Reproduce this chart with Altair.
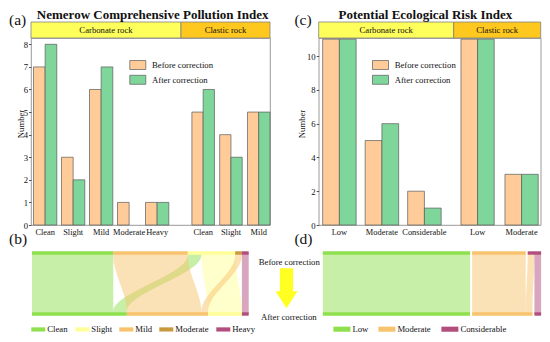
import json
import altair as alt
import pandas as pd

FONT = "Liberation Serif"
INK = "#111111"
FRAME = "#808080"
SMALL = 8.7

# ---------------- data ----------------
periods = ["Before correction", "After correction"]
period_colors = ["#FFCC99", "#7ED69B"]

a_title = "Nemerow Comprehensive Pollution Index"
a_carb_levels = ["Clean", "Slight", "Mild", "Moderate", "Heavy"]
a_carb_before = [7, 3, 6, 1, 1]
a_carb_after = [8, 2, 7, 0, 1]
a_clas_levels = ["Clean", "Slight", "Mild"]
a_clas_before = [5, 4, 5]
a_clas_after = [6, 3, 5]
a_yticks = [0, 1, 2, 3, 4, 5, 6, 7, 8]

c_title = "Potential Ecological Risk Index"
c_carb_levels = ["Low", "Moderate", "Considerable"]
c_carb_before = [11, 5, 2]
c_carb_after = [11, 6, 1]
c_clas_levels = ["Low", "Moderate"]
c_clas_before = [11, 3]
c_clas_after = [11, 3]
c_yticks = [0, 2, 4, 6, 8, 10]

rocks = ["Carbonate rock", "Clastic rock"]
rock_colors = ["#FFFF5C", "#FFC81E"]

b_classes = ["Clean", "Slight", "Mild", "Moderate", "Heavy"]
b_colors = ["#8FE04F", "#FFFF99", "#F8C36E", "#C89A3E", "#B24E7E"]
b_node_order = ["Clean", "Mild", "Slight", "Moderate", "Heavy"]
b_flow_src = ["Clean", "Slight", "Slight", "Mild", "Moderate", "Heavy"]
b_flow_tgt = ["Clean", "Clean", "Slight", "Mild", "Mild", "Heavy"]
b_flow_n = [12, 2, 5, 11, 1, 1]

d_classes = ["Low", "Moderate", "Considerable"]
d_colors = ["#8FE04F", "#F8C36E", "#B24E7E"]
d_node_order = ["Low", "Moderate", "Considerable"]
d_flow_src = ["Low", "Moderate", "Considerable", "Considerable"]
d_flow_tgt = ["Low", "Moderate", "Moderate", "Considerable"]
d_flow_n = [22, 8, 1, 1]

stage_labels = ["Before correction", "After correction"]


# ---------------- helpers ----------------
def label(text, x, y, size=SMALL, weight="normal", align="center",
          baseline="middle", opacity=1.0):
    return alt.Chart(alt.Data(values=[{"t": text}])).mark_text(
        font=FONT, fontSize=size, fontWeight=weight, align=align,
        baseline=baseline, color=INK, opacity=opacity
    ).encode(text="t:N", x=alt.value(x), y=alt.value(y))


def strip(x0, x1, color, text):
    rect = alt.Chart(alt.Data(values=[{"t": text}])).mark_rect(
        fill=color, stroke=FRAME, strokeWidth=0.8
    ).encode(x=alt.value(x0), x2=alt.value(x1), y=alt.value(-16), y2=alt.value(0))
    return [rect, label(text, (x0 + x1) / 2, -8)]


def bars_df(levels, before, after):
    rows = []
    for lv, b, a in zip(levels, before, after):
        rows.append({"level": lv, "period": periods[0], "value": b})
        rows.append({"level": lv, "period": periods[1], "value": a})
    return pd.DataFrame(rows)


def bar_layer(levels, before, after, rng, pin, pout, align, ymax, yaxis, legend):
    return alt.Chart(bars_df(levels, before, after)).transform_filter(
        "datum.value > 0"
    ).mark_bar(stroke="#5a5a5a", strokeWidth=0.7).encode(
        x=alt.X("level:N", sort=levels, title=None,
                scale=alt.Scale(domain=levels, range=rng, paddingInner=pin,
                                paddingOuter=pout, align=align),
                axis=alt.Axis(orient="bottom", labelAngle=0, ticks=False, domain=False,
                              labelPadding=2, labelFont=FONT, labelFontSize=8.4,
                              labelColor=INK, grid=False)),
        xOffset=alt.XOffset("period:N", sort=periods,
                            scale=alt.Scale(domain=periods, paddingInner=0, paddingOuter=0)),
        y=alt.Y("value:Q", scale=alt.Scale(domain=[0, ymax], nice=False), axis=yaxis),
        color=alt.Color("period:N", sort=periods,
                        scale=alt.Scale(domain=periods, range=period_colors), legend=legend),
    )


def bar_panel(title, title_x, tag, tag_x, tag2, width, split, height, ymax, yticks,
              ytitle_x, legend_x, carb, clas):
    yaxis = alt.Axis(values=yticks, title="Number", titleFont=FONT, titleFontSize=SMALL,
                     titleFontWeight="normal", titleColor=INK, titleX=ytitle_x, titleY=85.5,
                     titleAngle=270, titleBaseline="alphabetic", titleAlign="center",
                     labelFont=FONT, labelFontSize=SMALL, labelColor=INK, labelPadding=1,
                     tickSize=2.5, tickColor="#555555", domain=False, grid=False)
    legend = alt.Legend(title=None, orient="none", legendX=legend_x, legendY=21.5,
                        symbolType="M-1.6,-0.9H1.6V0.9H-1.6Z", symbolSize=100,
                        symbolStrokeColor="#5a5a5a", symbolStrokeWidth=0.7,
                        labelFont=FONT, labelFontSize=SMALL, labelColor=INK,
                        labelOffset=8.7, rowPadding=1.8, padding=0)
    layers = []
    layers += strip(0, split, rock_colors[0], rocks[0])
    layers += strip(split, width, rock_colors[1], rocks[1])
    layers.append(bar_layer(*carb[:3], [0, split], *carb[3:], ymax, yaxis, legend))
    layers.append(bar_layer(*clas[:3], [split, width], *clas[3:], ymax, yaxis, legend))
    layers.append(label(title, title_x, -19, size=13, weight="bold", baseline="alphabetic"))
    layers.append(label(tag, tag_x, -18.5, size=15.5, align="left"))
    layers.append(label(tag2, tag_x, 200.5, size=15.5, align="left"))
    return alt.layer(*layers).resolve_scale(
        x="independent", xOffset="independent"
    ).resolve_axis(x="independent").properties(
        width=width, height=height,
        view=alt.ViewBackground(stroke=FRAME, strokeWidth=0.8),
    )


def alluvial(src, tgt, n, classes, colors, node_order, gap, width, height, xrange_,
             legend, extra):
    order_js = json.dumps(node_order)
    flows = pd.DataFrame({"src": src, "tgt": tgt, "n": n})
    before = flows.groupby("src")["n"].sum()
    after = flows.groupby("tgt")["n"].sum()
    rows = []
    for c in node_order:
        rows.append({"stage": 0, "name": c, "num": int(before.get(c, 0))})
        rows.append({"stage": 1, "name": c, "num": int(after.get(c, 0))})
    nodes = pd.DataFrame(rows)
    total = int(flows["n"].sum())
    xs = alt.Scale(domain=[0, total + gap * (len(node_order) - 1)], range=xrange_,
                   nice=False, zero=False)
    ys = alt.Scale(domain=[0, 1], reverse=True, nice=False, zero=False)
    cs = alt.Scale(domain=classes, range=colors)

    flow_layer = alt.Chart(flows).transform_calculate(
        sr=f"indexof({order_js}, datum.src)",
        tr=f"indexof({order_js}, datum.tgt)",
    ).transform_window(
        acum="sum(n)", sort=[alt.SortField("sr"), alt.SortField("tr")], frame=[None, 0]
    ).transform_window(
        bcum="sum(n)", sort=[alt.SortField("tr"), alt.SortField("sr")], frame=[None, 0]
    ).transform_calculate(
        a0=f"datum.acum - datum.n + {gap} * datum.sr",
        a1=f"datum.acum + {gap} * datum.sr",
        b0=f"datum.bcum - datum.n + {gap} * datum.tr",
        b1=f"datum.bcum + {gap} * datum.tr",
        ts="[0, 0.04, 0.96, 1]",
        fid="datum.src + '>' + datum.tgt",
    ).transform_flatten(["ts"]).transform_calculate(
        xl="datum.ts < 0.5 ? datum.a0 : datum.b0",
        xr="datum.ts < 0.5 ? datum.a1 : datum.b1",
    ).mark_area(orient="horizontal", interpolate="monotone", fillOpacity=0.5).encode(
        x=alt.X("xl:Q", scale=xs, axis=None, stack=None),
        x2="xr:Q",
        y=alt.Y("ts:Q", scale=ys, axis=None),
        color=alt.Color("tgt:N", scale=cs, legend=legend),
        detail="fid:N",
    )

    node_layer = alt.Chart(nodes).transform_calculate(
        r=f"indexof({order_js}, datum.name)"
    ).transform_window(
        cum="sum(num)", groupby=["stage"], sort=[alt.SortField("r")], frame=[None, 0]
    ).transform_calculate(
        c0=f"datum.cum - datum.num + {gap} * datum.r",
        c1=f"datum.cum + {gap} * datum.r",
    ).transform_filter("datum.num > 0").mark_bar(size=3.4, orient="horizontal").encode(
        x=alt.X("c0:Q", scale=xs, axis=None, stack=None),
        x2="c1:Q",
        y=alt.Y("stage:Q", scale=ys, axis=None),
        color=alt.Color("name:N", scale=cs, legend=legend),
    )
    return alt.layer(flow_layer, node_layer, *extra).properties(width=width, height=height)


def flat_legend(x, y, sym, col_pad):
    return alt.Legend(title=None, orient="none", legendX=x, legendY=y, direction="horizontal",
                      symbolType="M-1,-0.3H1V0.3H-1Z", symbolSize=sym * sym,
                      symbolStrokeWidth=0, symbolOpacity=1,
                      labelFont=FONT, labelFontSize=SMALL,
                      labelColor=INK, labelOffset=2, columnPadding=col_pad, padding=0)


# ---------------- panels ----------------
panelA = bar_panel(
    a_title, 121.7, "(a)", -22, "(b)", 239, 150, 187, 8.28, a_yticks, -8, 101.3,
    (a_carb_levels, a_carb_before, a_carb_after, 0.168, 0.2625, 0.17),
    (a_clas_levels, a_clas_before, a_clas_after, 0.19, 0.196, 1.0),
)
panelC = bar_panel(
    c_title, 106.7, "(c)", -24.3, "(d)", 222, 135, 187, 11.07, c_yticks, -14.3, 56.3,
    (c_carb_levels, c_carb_before, c_carb_after, 0.212, 0.194, 0.24),
    (c_clas_levels, c_clas_before, c_clas_after, 0.245, 0.111, 0.745),
)

arrow_path = "M-0.33,-1L0.33,-1L0.33,0.15L0.55,0.15L0,1L-0.55,0.15L-0.33,0.15Z"
arrow = alt.Chart(alt.Data(values=[{"k": 1}])).mark_point(
    shape=arrow_path, filled=True, color="#FFFF22", opacity=1, strokeWidth=0, size=1600
).encode(x=alt.value(255.5), y=alt.value(40.3))

panelB = alluvial(
    b_flow_src, b_flow_tgt, b_flow_n, b_classes, b_colors, b_node_order, 0,
    218, 71, [1, 217.7], flat_legend(0.3, 74.3, 14, 7),
    [label(stage_labels[0], 258.3, 14), arrow, label(stage_labels[1], 257.8, 69),
     label("(b)", -22, 30, size=15.5, align="left", opacity=0)],
)
panelD = alluvial(
    d_flow_src, d_flow_tgt, d_flow_n, d_classes, d_colors, d_node_order, 0.3,
    218.3, 71, [0, 218.3], flat_legend(10.6, 72.3, 17, 10), [],
)

row1 = alt.hconcat(panelA, panelC, spacing=22.7).resolve_scale(color="independent")
row2 = alt.hconcat(panelB, panelD, spacing=2.8).resolve_scale(color="independent")
chart = alt.vconcat(row1, row2, spacing=0).resolve_scale(
    color="independent"
).properties(padding=0).configure(font=FONT).configure_view(stroke=None).configure_axis(
    labelFont=FONT, titleFont=FONT
).configure_legend(labelFont=FONT).configure_text(font=FONT)

chart.save("out.html", embed_options={"renderer": "svg", "actions": False})
